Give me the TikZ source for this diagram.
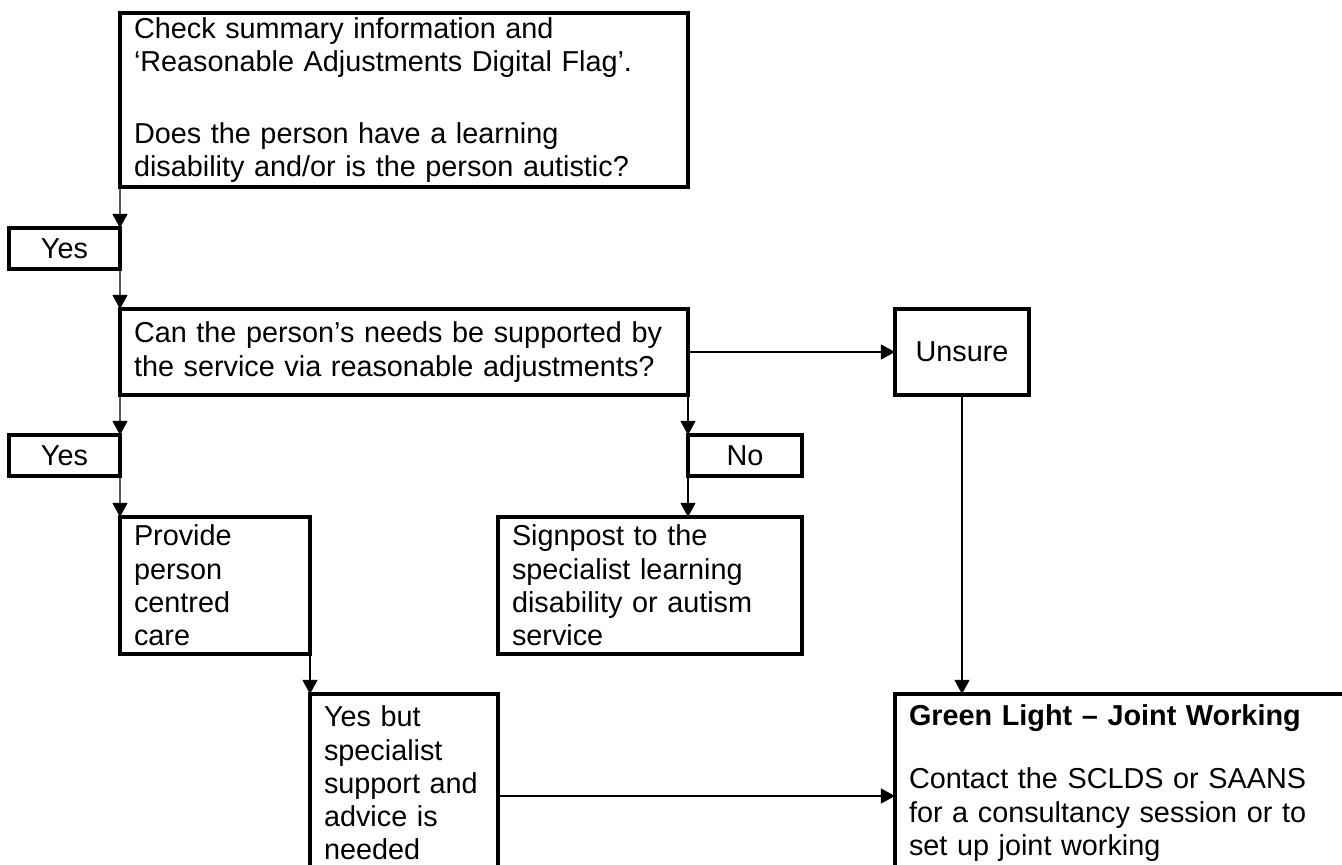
\documentclass[tikz,border=0pt]{standalone}
\usepackage{fontspec}
\setmainfont{Liberation Sans}
\usetikzlibrary{arrows.meta}
\newlength{\unitpx}
\setlength{\unitpx}{0.02cm}
\begin{document}
\begin{tikzpicture}[x=0.02cm, y=-0.02cm,
		box/.style={draw, line width=1.8pt, outer sep=0pt, anchor=north west, inner xsep=14\unitpx, inner ysep=0pt, align=left, font=\fontsize{16.4}{18.95}\selectfont},
		tag/.style={box, align=center},
		arr/.style={line width=0.7pt, -{Triangle[width=8.5pt, length=8pt]}}]
			\useasboundingbox (0,0) rectangle (1342,865);
			\node[box, text width=540\unitpx, minimum height=174\unitpx](check) at (120, 13){Check summary information and\\‘Reasonable Adjustments Digital Flag’.\\[39\unitpx]Does the person have a learning\\disability and/or is the person autistic?};
			\node[tag, minimum width=111\unitpx, minimum height=41\unitpx](yesA) at (9, 228){Yes};
			\node[box, text width=540\unitpx, minimum height=86\unitpx](can) at (120, 309){Can the person’s needs be supported by\\the service via reasonable adjustments?};
			\node[tag, minimum width=134\unitpx, minimum height=86\unitpx](unsure) at (895, 309){Unsure};
			\node[tag, minimum width=111\unitpx, minimum height=41\unitpx](yesB) at (9, 435){Yes};
			\node[tag, minimum width=114\unitpx, minimum height=41\unitpx](no) at (688, 435){No};
			\node[box, text width=162\unitpx, minimum height=137\unitpx](provide) at (120, 517){Provide\\person\\centred\\care};
			\node[box, text width=276\unitpx, minimum height=137\unitpx](sign) at (498, 517){Signpost to the\\specialist learning\\disability or autism\\service};
			\node[box, text width=160\unitpx, minimum height=178\unitpx](yesbut) at (310, 694){Yes but\\specialist\\support and\\advice is\\needed};
			\node[box, text width=437\unitpx, minimum height=178\unitpx](green) at (895, 694){\textbf{Green Light – Joint Working}\\[30\unitpx]Contact the SCLDS or SAANS\\for a consultancy session or to\\set up joint working};
			\draw[arr] (check.south west) -- (yesA.north east);
			\draw[arr] (yesA.south east) -- (can.north west);
			\draw[arr] (can.east) -- (unsure.west);
			\draw[arr] (can.south west) -- (yesB.north east);
			\draw[arr] (can.south east) -- (no.north west);
			\draw[arr] (yesB.south east) -- (provide.north west);
			\draw[arr] (no.south west) -- (no.south west |- sign.north);
			\draw[arr] (provide.south east) -- (yesbut.north west);
			\draw[arr] (unsure.south) -- (unsure.south |- green.north);
			\draw[arr] ([yshift=-13\unitpx]yesbut.east) -- ([yshift=-13\unitpx]yesbut.east -| green.west);
		\end{tikzpicture}
\end{document}
